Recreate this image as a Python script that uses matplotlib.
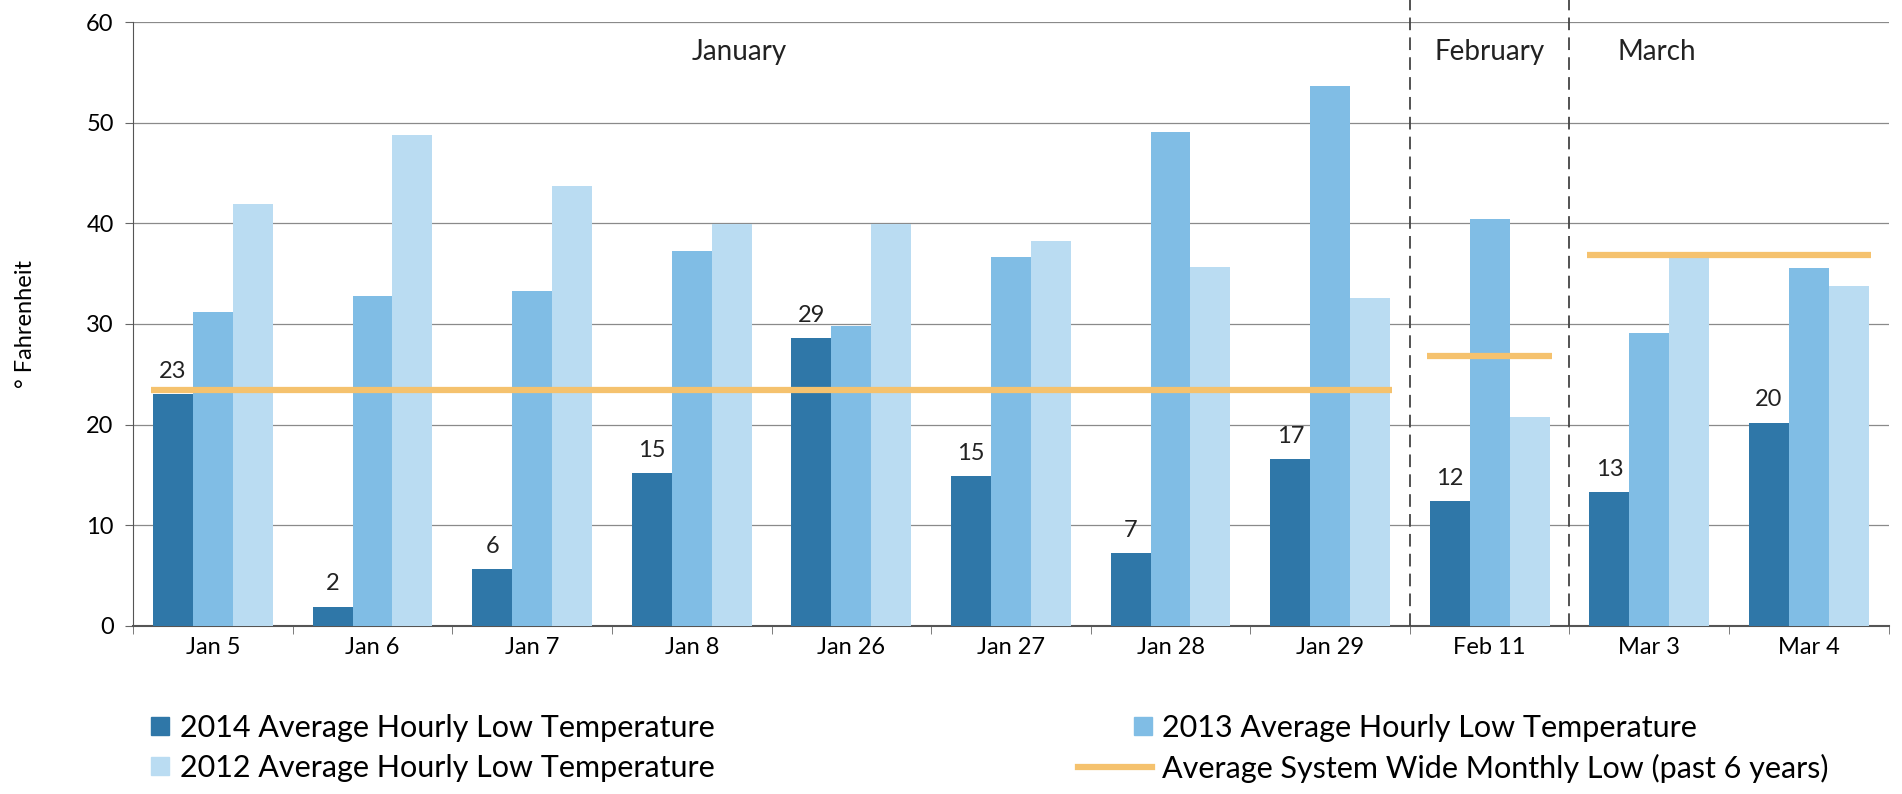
import numpy as np
from matplotlib import pyplot as plt
from matplotlib.patches import Patch, Rectangle
from matplotlib.lines import Line2D
from matplotlib.legend_handler import HandlerPatch

plt.rcParams['font.family'] = ['Lato', 'DejaVu Sans']

days = ['Jan 5', 'Jan 6', 'Jan 7', 'Jan 8', 'Jan 26', 'Jan 27', 'Jan 28', 'Jan 29',
        'Feb 11', 'Mar 3', 'Mar 4']
low_2014 = [23.0, 1.9, 5.6, 15.2, 28.6, 14.9, 7.2, 16.6, 12.4, 13.3, 20.2]
low_2013 = [31.2, 32.8, 33.3, 37.3, 29.8, 36.7, 49.1, 53.7, 40.4, 29.1, 35.6]
low_2012 = [41.9, 48.8, 43.7, 39.9, 39.9, 38.2, 35.7, 32.6, 20.7, 37.0, 33.8]

months = ['January', 'February', 'March']
month_avg = [23.4, 26.8, 36.9]
month_first = [0, 8, 9]
month_last = [7, 8, 10]

c2014 = '#2F77A8'
c2013 = '#80BDE5'
c2012 = '#BADCF2'
cavg = '#F5C26E'


def right_square(legend, orig_handle, xdescent, ydescent, width, height, fontsize):
    # small square pushed against the label, like the original legend
    s = height * 0.85
    return Rectangle((-xdescent + width - s, -ydescent + (height - s) / 2), s, s)


fig = plt.figure(figsize=(19.02, 7.94), dpi=100)
ax = fig.add_axes([0.070, 0.212, 0.923, 0.760])

x = np.arange(len(days))
w = 0.25
ax.bar(x - w, low_2014, w, color=c2014, zorder=3)
ax.bar(x, low_2013, w, color=c2013, zorder=3)
ax.bar(x + w, low_2012, w, color=c2012, zorder=3)

for xi, v in zip(x, low_2014):
    ax.text(xi - w, v + 1.2, '%d' % round(v), ha='center', va='bottom', fontsize=17, color='#222222', zorder=5)

# monthly average lines
for avg, a, b in zip(month_avg, month_first, month_last):
    ax.hlines(avg, a - 0.39, b + 0.39, color=cavg, lw=4.5, zorder=4)

# month separators and labels
for xs in [7.5, 8.5]:
    ax.plot([xs, xs], [0, 62.5], color='#444444', lw=1.3, ls=(0, (7, 4)), clip_on=False, zorder=4)
for name, pos in zip(months, [3.3, 8.0, 9.05]):
    ax.text(pos, 57.0, name, ha='center', va='center', fontsize=20, color='#222222')

ax.set_xlim(-0.5, len(days) - 0.5)
ax.set_ylim(0, 60)
ax.set_yticks(range(0, 61, 10))
ax.set_xticks(x)
ax.set_xticklabels(days, fontsize=17)
ax.set_xticks(np.arange(-0.5, len(days), 1), minor=True)
ax.tick_params(axis='x', which='major', length=0, pad=8)
ax.tick_params(axis='x', which='minor', length=6, color='#666666')
ax.tick_params(axis='y', length=6, color='#666666', labelsize=17, pad=8)
ax.yaxis.grid(True, color='#8a8a8a', lw=0.9, zorder=0)
for s in ['top', 'right']:
    ax.spines[s].set_visible(False)
ax.spines['left'].set_color('#555555')
ax.spines['bottom'].set_color('#555555')
ax.spines['bottom'].set_linewidth(1.5)
ax.set_ylabel('° Fahrenheit', fontsize=17, labelpad=36)

handles = [Patch(color=c2014), Patch(color=c2012), Patch(color=c2013),
           Line2D([0], [0], color=cavg, lw=4.5)]
labels = ['2014 Average Hourly Low Temperature', '2012 Average Hourly Low Temperature',
          '2013 Average Hourly Low Temperature', 'Average System Wide Monthly Low (past 6 years)']
fig.legend(handles, labels, ncol=2, loc='lower left', bbox_to_anchor=(0.036, -0.021),
           frameon=False, fontsize=22, columnspacing=11.9, handlelength=2.4, handletextpad=0.35,
           labelspacing=0.4, handler_map={Patch: HandlerPatch(patch_func=right_square)})

fig.savefig('out.png', dpi=100)
